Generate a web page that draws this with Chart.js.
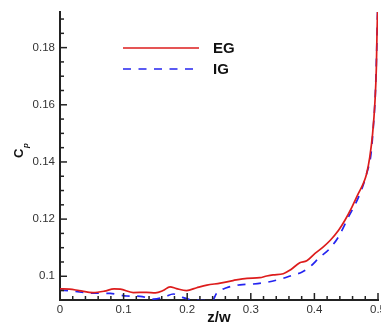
<!DOCTYPE html>
<html>
<head>
<meta charset="utf-8">
<script src="https://cdn.jsdelivr.net/npm/chart.js@4/dist/chart.umd.min.js"></script>
<style>
  html, body { margin: 0; padding: 0; background: #fff; overflow: hidden; width: 381px; height: 329px; }
  #wrap { position: relative; width: 400px; height: 329px; }
</style>
</head>
<body>
<div id="wrap"><canvas id="c" width="400" height="329"></canvas></div>
<script>
// Pressure coefficient along the span, two grids
const seriesNames = ['EG', 'IG'];

const egZ  = [0, 0.015, 0.03, 0.052, 0.07, 0.085, 0.095, 0.115, 0.136, 0.15, 0.162, 0.173, 0.183, 0.199, 0.215, 0.231, 0.252, 0.272, 0.294, 0.314, 0.325, 0.335, 0.351, 0.362, 0.377, 0.388, 0.401, 0.414, 0.425, 0.438, 0.448, 0.459, 0.469, 0.477, 0.482, 0.487, 0.4915, 0.4953, 0.4974, 0.4984, 0.4992, 0.4998];
const egCp = [0.0956, 0.0955, 0.0950, 0.0943, 0.0948, 0.0956, 0.0955, 0.0943, 0.0944, 0.0942, 0.0950, 0.0963, 0.0957, 0.0950, 0.0960, 0.0969, 0.0976, 0.0985, 0.0993, 0.0995, 0.1001, 0.1005, 0.1009, 0.1022, 0.1047, 0.1054, 0.1080, 0.1103, 0.1126, 0.1161, 0.1196, 0.1242, 0.1289, 0.1325, 0.1358, 0.1416, 0.1498, 0.1614, 0.1729, 0.1846, 0.1915, 0.1960];

const igZ  = [0, 0.02, 0.05, 0.079, 0.105, 0.126, 0.147, 0.165, 0.178, 0.19, 0.205, 0.225, 0.24, 0.246, 0.262, 0.283, 0.304, 0.325, 0.351, 0.367, 0.38, 0.393, 0.409, 0.422, 0.437, 0.453, 0.4717, 0.482, 0.489, 0.4926, 0.4958, 0.4979, 0.499, 0.4998];
const igCp = [0.0952, 0.0948, 0.0941, 0.0940, 0.0931, 0.0930, 0.0920, 0.0928, 0.0938, 0.0928, 0.0918, 0.0915, 0.0916, 0.0940, 0.0960, 0.0970, 0.0973, 0.0979, 0.0993, 0.1005, 0.1014, 0.1033, 0.1068, 0.1092, 0.1135, 0.1205, 0.1289, 0.1358, 0.1428, 0.1521, 0.1637, 0.1788, 0.1900, 0.1960];

const xTicks = [0, 0.1, 0.2, 0.3, 0.4, 0.5];
const yTicks = [0.1, 0.12, 0.14, 0.16, 0.18];
const xMinorStep = 0.02;
const yMinorStep = 0.005;

const FONT = '"Liberation Sans", Arial, sans-serif';
const INK = '#222';

function pairs(xs, ys) { return xs.map((x, i) => ({ x: x, y: ys[i] })); }

// Inward major/minor tick marks on both axes
const inwardTicks = {
  id: 'inwardTicks',
  afterDatasetsDraw(chart) {
    const { ctx, chartArea: a, scales: { x, y } } = chart;
    ctx.save();
    ctx.strokeStyle = INK;
    ctx.lineWidth = 1.5;
    const seg = (x0, y0, x1, y1) => { ctx.beginPath(); ctx.moveTo(x0, y0); ctx.lineTo(x1, y1); ctx.stroke(); };
    const isMajor = (v, list) => list.some(m => Math.abs(m - v) < 1e-9);
    for (const v of xTicks) { const px = x.getPixelForValue(v); seg(px, a.bottom, px, a.bottom - 7); }
    for (let k = Math.ceil(x.min / xMinorStep - 1e-9); k * xMinorStep <= x.max + 1e-9; k++) {
      const v = +(k * xMinorStep).toFixed(6);
      if (isMajor(v, xTicks)) continue;
      const px = x.getPixelForValue(v); seg(px, a.bottom, px, a.bottom - 4);
    }
    for (const v of yTicks) { const py = y.getPixelForValue(v); seg(a.left, py, a.left + 7, py); }
    for (let k = Math.ceil(y.min / yMinorStep - 1e-9); k * yMinorStep <= y.max + 1e-9; k++) {
      const v = +(k * yMinorStep).toFixed(6);
      if (isMajor(v, yTicks)) continue;
      const py = y.getPixelForValue(v); seg(a.left, py, a.left + 4, py);
    }
    ctx.restore();
  }
};

// Axis titles: z/w below, C_p rotated on the left
const axisTitles = {
  id: 'axisTitles',
  afterDraw(chart) {
    const { ctx, chartArea: a } = chart;
    ctx.save();
    ctx.fillStyle = '#111';
    ctx.font = 'bold 15px ' + FONT;
    ctx.textAlign = 'center';
    ctx.textBaseline = 'middle';
    ctx.fillText('z/w', (a.left + a.right) / 2, 318);

    ctx.translate(23, 158);
    ctx.rotate(-Math.PI / 2);
    ctx.textAlign = 'left';
    ctx.textBaseline = 'alphabetic';
    ctx.font = 'bold 13px ' + FONT;
    ctx.fillText('C', 0, 0);
    const w = ctx.measureText('C').width;
    ctx.font = 'italic bold 8px ' + FONT;
    ctx.fillText('p', w + 0.5, 5);
    ctx.restore();
  }
};

// Legend with line samples inside the plot
const lineLegend = {
  id: 'lineLegend',
  afterDraw(chart) {
    const { ctx } = chart;
    const rows = [48, 69];
    ctx.save();
    chart.data.datasets.forEach((ds, i) => {
      const yy = rows[i];
      ctx.strokeStyle = ds.borderColor;
      ctx.lineWidth = 1.6;
      ctx.setLineDash(ds.borderDash || []);
      ctx.beginPath(); ctx.moveTo(123, yy); ctx.lineTo(199, yy); ctx.stroke();
      ctx.setLineDash([]);
      ctx.fillStyle = '#111';
      ctx.font = 'bold 15px ' + FONT;
      ctx.textAlign = 'left';
      ctx.textBaseline = 'middle';
      ctx.fillText(ds.label, 213, yy + 1);
    });
    ctx.restore();
  }
};

const fmt = v => String(+v.toFixed(3));

new Chart(document.getElementById('c'), {
  type: 'line',
  data: {
    datasets: [
      { label: seriesNames[0], data: pairs(egZ, egCp), borderColor: '#dd1c1c', borderWidth: 1.7,
        pointRadius: 0, cubicInterpolationMode: 'monotone', fill: false },
      { label: seriesNames[1], data: pairs(igZ, igCp), borderColor: '#2424f0', borderWidth: 1.7,
        borderDash: [8, 7.5], pointRadius: 0, cubicInterpolationMode: 'monotone', fill: false }
    ]
  },
  options: {
    responsive: false,
    animation: false,
    events: [],
    layout: { padding: { left: 0, right: 22, top: 11, bottom: 0 } },
    plugins: { legend: { display: false }, tooltip: { enabled: false } },
    scales: {
      x: {
        type: 'linear', min: 0, max: 0.5,
        grid: { display: false, drawTicks: false },
        border: { display: true, color: INK, width: 2 },
        afterBuildTicks: s => { s.ticks = xTicks.map(v => ({ value: v })); },
        afterFit: s => { s.height = 29; },
        ticks: { color: '#333', font: { family: FONT, size: 11.5 }, padding: 3, maxRotation: 0, callback: v => fmt(v) }
      },
      y: {
        type: 'linear', min: 0.0917, max: 0.1925,
        grid: { display: false, drawTicks: false },
        border: { display: true, color: INK, width: 2 },
        afterBuildTicks: s => { s.ticks = yTicks.map(v => ({ value: v })); },
        afterFit: s => { s.width = 60; },
        ticks: { color: '#333', font: { family: FONT, size: 11.5 }, padding: 5, callback: v => fmt(v) }
      }
    }
  },
  plugins: [inwardTicks, axisTitles, lineLegend]
});
</script>
</body>
</html>
